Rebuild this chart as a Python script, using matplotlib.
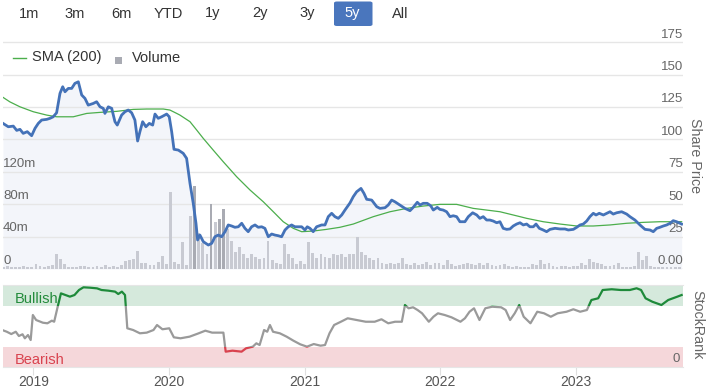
import matplotlib
matplotlib.use("Agg")
import matplotlib.pyplot as plt
import matplotlib.transforms as mtransforms
import numpy as np
from matplotlib.patches import Rectangle, FancyBboxPatch

plt.rcParams.update({"font.family": ["Liberation Sans", "DejaVu Sans"], "font.size": 10})

BLUE, GREEN, GREY, RED = "#4472b8", "#4cae4c", "#9a9a9a", "#d9434f"
TXT = "#666666"

# ---- share price (decimal year, price) ----
PRICE_T = [2018.777, 2018.816, 2018.853, 2018.878, 2018.902, 2018.926, 2018.956, 2018.988,
           2019.013, 2019.037, 2019.062, 2019.099, 2019.123, 2019.147, 2019.172, 2019.197,
           2019.217, 2019.234, 2019.258, 2019.283, 2019.307, 2019.332, 2019.357, 2019.381,
           2019.405, 2019.442, 2019.467, 2019.492, 2019.516, 2019.528, 2019.553, 2019.578,
           2019.602, 2019.619, 2019.651, 2019.676, 2019.700, 2019.725, 2019.749, 2019.769,
           2019.786, 2019.806, 2019.830, 2019.855, 2019.880, 2019.897, 2019.921, 2019.946,
           2019.983, 2020.002, 2020.020, 2020.037, 2020.069, 2020.105, 2020.130, 2020.155,
           2020.179, 2020.199, 2020.211, 2020.228, 2020.253, 2020.290, 2020.315, 2020.339,
           2020.363, 2020.388, 2020.413, 2020.437, 2020.462, 2020.486, 2020.511, 2020.536,
           2020.560, 2020.584, 2020.609, 2020.634, 2020.658, 2020.683, 2020.707, 2020.732,
           2020.757, 2020.781, 2020.805, 2020.830, 2020.855, 2020.879, 2020.904, 2020.928,
           2020.953, 2020.978, 2021.002, 2021.019, 2021.039, 2021.063, 2021.088, 2021.125,
           2021.150, 2021.174, 2021.199, 2021.223, 2021.248, 2021.273, 2021.297, 2021.334,
           2021.358, 2021.383, 2021.415, 2021.437, 2021.457, 2021.494, 2021.531, 2021.555,
           2021.592, 2021.616, 2021.641, 2021.665, 2021.702, 2021.739, 2021.776, 2021.800,
           2021.830, 2021.850, 2021.874, 2021.903, 2021.929, 2021.948, 2021.977, 2021.997,
           2022.021, 2022.046, 2022.071, 2022.095, 2022.120, 2022.144, 2022.181, 2022.206,
           2022.238, 2022.268, 2022.291, 2022.316, 2022.341, 2022.365, 2022.390, 2022.415,
           2022.439, 2022.463, 2022.489, 2022.513, 2022.537, 2022.562, 2022.587, 2022.611,
           2022.636, 2022.660, 2022.685, 2022.705, 2022.729, 2022.758, 2022.783, 2022.808,
           2022.845, 2022.882, 2022.918, 2022.943, 2022.980, 2023.005, 2023.029, 2023.053,
           2023.078, 2023.102, 2023.127, 2023.147, 2023.171, 2023.201, 2023.226, 2023.250,
           2023.274, 2023.299, 2023.336, 2023.373, 2023.397, 2023.434, 2023.471, 2023.508,
           2023.545, 2023.569, 2023.594, 2023.618, 2023.643, 2023.668, 2023.692, 2023.716,
           2023.741, 2023.766, 2023.778]
PRICE = [112.4, 109.8, 110.3, 107.0, 107.8, 104.7, 106.0, 102.9,
         108.6, 112.4, 115.0, 115.5, 116.3, 117.5, 120.6, 135.6,
         140.7, 136.8, 139.4, 139.4, 143.3, 144.5, 134.3, 131.7,
         126.5, 127.8, 129.1, 125.2, 124.0, 120.1, 125.2, 124.0,
         113.7, 111.1, 118.8, 121.4, 122.7, 120.6, 115.0, 98.8,
         106.0, 113.7, 109.8, 112.4, 111.1, 119.6, 116.3, 117.5,
         119.6, 117.5, 106.0, 92.4, 91.8, 89.3, 85.4, 66.1,
         50.7, 35.3, 22.4, 26.2, 21.1, 18.5, 19.8, 24.9,
         26.2, 24.9, 28.8, 34.0, 33.2, 32.2, 32.6, 35.3,
         31.4, 28.8, 32.6, 34.0, 32.2, 32.6, 31.4, 24.9,
         27.0, 26.2, 25.7, 24.9, 30.1, 32.6, 34.0, 32.6,
         32.6, 32.6, 30.1, 32.6, 31.4, 28.8, 32.6, 34.0,
         34.0, 40.4, 43.0, 40.4, 39.1, 41.7, 45.5, 51.0,
         55.8, 59.6, 62.2, 58.4, 53.8, 53.2, 48.1, 46.8,
         47.3, 49.4, 53.2, 51.9, 49.4, 46.8, 45.0, 47.6,
         51.5, 49.4, 50.7, 50.7, 48.8, 45.5, 47.6, 46.0,
         45.5, 44.2, 40.4, 41.1, 40.4, 36.5, 36.5, 40.4,
         43.4, 41.7, 39.1, 40.4, 37.8, 37.8, 37.0, 35.7,
         36.5, 31.4, 30.6, 30.9, 33.2, 34.7, 35.7, 34.0,
         34.7, 32.6, 32.6, 34.7, 31.4, 30.1, 28.8, 30.6,
         31.4, 30.9, 30.9, 30.1, 30.6, 32.2, 34.0, 34.7,
         37.0, 40.4, 43.0, 41.7, 43.0, 41.7, 43.0, 44.2,
         42.4, 43.4, 44.2, 42.4, 40.4, 37.8, 34.0, 30.6,
         30.1, 28.8, 31.4, 32.2, 33.2, 34.0, 35.3, 37.3,
         36.5, 35.3, 34.7]

# ---- 200-day moving average ----
SMA_T = [2018.777, 2018.828, 2018.902, 2019.000, 2019.099, 2019.172, 2019.295, 2019.394,
         2019.492, 2019.615, 2019.737, 2019.836, 2019.958, 2020.007, 2020.057, 2020.081,
         2020.155, 2020.204, 2020.253, 2020.326, 2020.400, 2020.499, 2020.597, 2020.695,
         2020.769, 2020.842, 2020.916, 2020.978, 2021.063, 2021.162, 2021.260, 2021.358,
         2021.506, 2021.629, 2021.752, 2021.874, 2021.997, 2022.120, 2022.242, 2022.439,
         2022.587, 2022.636, 2022.758, 2022.882, 2023.005, 2023.127, 2023.250, 2023.373,
         2023.495, 2023.618, 2023.778]
SMA = [132.5, 129.0, 125.2, 121.4, 118.8, 117.5, 117.5, 120.1,
       120.9, 121.7, 123.2, 123.5, 123.5, 122.7, 120.1, 118.8,
       113.7, 107.3, 100.8, 91.8, 82.8, 71.2, 61.0, 51.9,
       44.2, 36.5, 31.4, 28.8, 29.3, 30.6, 32.2, 34.7,
       40.4, 44.2, 46.8, 48.6, 49.9, 49.9, 46.8, 44.2,
       40.4, 39.1, 36.5, 34.7, 33.2, 33.2, 34.0, 35.3,
       36.0, 36.5, 36.5]

# ---- volume (millions), one bar every VOL_STEP years from VOL_START ----
VOL_START, VOL_STEP = 2018.78, 0.03
VOLUME_M = [3, 4, 2, 3, 2, 4, 3, 3, 6, 4, 3, 4, 5, 19, 12, 6, 3, 2, 3, 4,
            4, 3, 3, 4, 3, 5, 3, 4, 3, 5, 10, 11, 12, 22, 8, 7, 5, 5, 9, 16,
            6, 95, 9, 6, 33, 5, 66, 102, 45, 32, 19, 80, 58, 62, 74, 49, 35, 21, 27, 19,
            14, 18, 15, 12, 14, 35, 11, 8, 6, 31, 19, 14, 6, 10, 6, 33, 20, 14, 19, 15,
            13, 19, 17, 19, 15, 19, 18, 40, 21, 17, 14, 11, 14, 7, 6, 8, 6, 7, 13, 6,
            5, 7, 5, 6, 9, 5, 7, 8, 5, 11, 6, 4, 5, 6, 8, 6, 5, 7, 5, 8,
            5, 4, 5, 6, 4, 3, 4, 2, 3, 2, 6, 5, 11, 6, 8, 4, 3, 4, 4, 3,
            4, 4, 7, 5, 12, 9, 8, 6, 4, 4, 5, 8, 3, 3, 3, 4, 21, 11, 16, 4,
            3, 2, 3, 2, 3, 2, 3]
VOL_DARK = [47, 51, 53, 54]

# ---- StockRank ----
RANK_T = [2018.771, 2018.805, 2018.838, 2018.871, 2018.894, 2018.921, 2018.938, 2018.961,
          2018.981, 2018.997, 2019.021, 2019.071, 2019.104, 2019.137, 2019.154, 2019.180,
          2019.204, 2019.237, 2019.270, 2019.304, 2019.337, 2019.370, 2019.420, 2019.470,
          2019.503, 2019.553, 2019.603, 2019.626, 2019.653, 2019.676, 2019.693, 2019.736,
          2019.786, 2019.836, 2019.886, 2019.912, 2019.952, 2020.002, 2020.036, 2020.085,
          2020.152, 2020.219, 2020.268, 2020.318, 2020.401, 2020.418, 2020.468, 2020.535,
          2020.568, 2020.618, 2020.644, 2020.668, 2020.701, 2020.724, 2020.744, 2020.767,
          2020.817, 2020.867, 2020.917, 2020.967, 2021.017, 2021.067, 2021.117, 2021.150,
          2021.183, 2021.217, 2021.267, 2021.317, 2021.383, 2021.450, 2021.516, 2021.566,
          2021.616, 2021.666, 2021.716, 2021.739, 2021.766, 2021.799, 2021.832, 2021.865,
          2021.915, 2021.949, 2021.982, 2022.032, 2022.082, 2022.148, 2022.181, 2022.215,
          2022.248, 2022.288, 2022.331, 2022.381, 2022.448, 2022.481, 2022.514, 2022.548,
          2022.581, 2022.614, 2022.664, 2022.714, 2022.764, 2022.814, 2022.864, 2022.930,
          2022.980, 2023.030, 2023.080, 2023.113, 2023.163, 2023.196, 2023.263, 2023.329,
          2023.396, 2023.446, 2023.479, 2023.512, 2023.562, 2023.629, 2023.679, 2023.745,
          2023.778]
RANK = [45.1, 43.0, 40.2, 43.0, 37.8, 39.9, 35.0, 39.0,
        32.9, 63.4, 57.3, 54.0, 53.3, 56.5, 55.2, 73.5,
        89.8, 87.8, 85.8, 87.8, 93.9, 97.2, 96.7, 95.9,
        93.9, 93.1, 91.9, 89.0, 91.9, 87.8, 47.2, 45.1,
        41.1, 41.9, 45.1, 51.2, 46.0, 47.2, 36.2, 35.0,
        37.0, 41.1, 44.3, 41.9, 41.9, 18.7, 19.9, 18.7,
        22.8, 24.8, 28.9, 26.8, 45.1, 43.0, 51.2, 43.0,
        41.1, 37.0, 32.1, 27.7, 24.8, 28.0, 26.0, 26.8,
        41.1, 51.2, 55.2, 59.4, 57.3, 55.2, 55.2, 58.2,
        53.3, 55.2, 55.2, 75.6, 71.6, 72.8, 69.5, 65.5,
        55.2, 61.3, 65.5, 63.4, 60.6, 55.2, 59.4, 67.4,
        71.6, 57.3, 71.6, 73.5, 72.8, 69.5, 57.3, 65.5,
        75.6, 61.3, 53.3, 67.4, 65.5, 61.3, 65.5, 67.4,
        70.4, 67.4, 69.5, 81.7, 83.8, 93.9, 94.8, 93.9,
        93.9, 96.0, 93.9, 83.8, 79.6, 75.6, 81.7, 85.7,
        87.8]

YEARS = [2019, 2020, 2021, 2022, 2023]
PRICE_TICKS = [0, 25, 50, 75, 100, 125, 150, 175]
VOL_TICKS = [0, 40, 80, 120]
BUTTONS = ["1m", "3m", "6m", "YTD", "1y", "2y", "3y", "5y", "All"]
ACTIVE = "5y"

W, H = 708, 389
XMIN, XMAX = 2018.777, 2023.788


def rect(x0, y0, x1, y1):
    return [x0 / W, 1 - y1 / H, (x1 - x0) / W, (y1 - y0) / H]


fig = plt.figure(figsize=(W / 100, H / 100), dpi=100)

# main panel: background (fill + grid), volume, price lines
main = rect(3, 41, 683, 269)
ax_bg = fig.add_axes(main)
ax_vol = fig.add_axes(main, sharex=ax_bg)
ax_p = fig.add_axes(main, sharex=ax_bg, sharey=ax_bg)
for a in (ax_bg, ax_vol, ax_p):
    a.set_axis_off()
ax_bg.set_xlim(XMIN, XMAX)
ax_bg.set_ylim(0, 176)
ax_vol.set_ylim(0, 176 * 1.6)

ax_bg.fill_between(PRICE_T, PRICE, 0, color="#f3f5fa", lw=0, zorder=0)
for v in PRICE_TICKS:
    ax_bg.axhline(v, color="#e6e6e6", lw=1, zorder=1)

vol_t = VOL_START + VOL_STEP * np.arange(len(VOLUME_M))
vcols = ["#a9abb3" if i in VOL_DARK else "#c8cad2" for i in range(len(VOLUME_M))]
ax_vol.bar(vol_t, VOLUME_M, width=VOL_STEP * 0.7, color=vcols, lw=0)

ax_p.plot(SMA_T, SMA, color=GREEN, lw=0.9)
ax_p.plot(PRICE_T, PRICE, color=BLUE, lw=2.0, solid_joinstyle="round")

tr_r = mtransforms.blended_transform_factory(ax_bg.transAxes, ax_bg.transData)
for v in PRICE_TICKS:
    ax_bg.annotate("0.00" if v == 0 else str(v), (1, v), xycoords=tr_r,
                   xytext=(0, 5.5), textcoords="offset points", ha="right", va="center",
                   fontsize=9.5, color=TXT)
tr_l = mtransforms.blended_transform_factory(ax_vol.transAxes, ax_vol.transData)
for v in VOL_TICKS:
    ax_vol.annotate("0" if v == 0 else f"{v}m", (0, v), xycoords=tr_l,
                    xytext=(0, 6), textcoords="offset points", ha="left", va="center",
                    fontsize=9.5, color=TXT)
fig.text(695 / W, 1 - 156 / H, "Share Price", rotation=-90, ha="center", va="center",
         fontsize=10.3, color=TXT)

# legend
fig.add_artist(plt.Line2D([13 / W, 26 / W], [1 - 57.5 / H] * 2, color=GREEN, lw=1))
fig.text(32.5 / W, 1 - 57.5 / H, "SMA (200)", ha="left", va="center", fontsize=10.5, color="#333333")
fig.add_artist(Rectangle((114.5 / W, 1 - 63.5 / H), 7 / W, 7 / H, color="#a9abb3", lw=0))
fig.text(131.5 / W, 1 - 57.5 / H, "Volume", ha="left", va="center", fontsize=10.5, color="#333333")

# range buttons
btn_x = [29.3, 75, 121, 168, 213, 260, 307, 352.7, 400]
for lab, bx in zip(BUTTONS, btn_x):
    if lab == ACTIVE:
        fig.add_artist(FancyBboxPatch((334 / W, 1 - 26 / H), 38.5 / W, 24.5 / H,
                                      boxstyle="round,pad=0,rounding_size=0.004",
                                      color="#4a76bd", lw=0))
    fig.text(bx / W, 1 - 13.5 / H, lab, ha="center", va="center", fontsize=10.5,
             color="white" if lab == ACTIVE else "#333333")

# StockRank panel
ax_r = fig.add_axes(rect(3, 285, 683, 367))
ax_r.set_xlim(XMIN, XMAX)
ax_r.set_ylim(0, 100)
ax_r.axhspan(75, 100, color="#d5e9dc", lw=0, zorder=0)
ax_r.axhspan(0, 25, color="#f5d7da", lw=0, zorder=0)
for lo, hi, col in [(75, 101, "#1e8a3a"), (25, 75, GREY), (-1, 25, RED)]:
    ln, = ax_r.plot(RANK_T, RANK, color=col, lw=1.6, solid_joinstyle="round", zorder=2)
    ln.set_clip_path(Rectangle((XMIN, lo), XMAX - XMIN, hi - lo, transform=ax_r.transData))
for s in ("left", "right"):
    ax_r.spines[s].set_visible(False)
ax_r.spines["top"].set_color("#e6e6e6")
ax_r.spines["bottom"].set_color("#e6e6e6")
ax_r.set_yticks([])
ax_r.set_xticks(YEARS)
ax_r.set_xticklabels([])
ax_r.tick_params(axis="x", length=6, color="#e0e0e0")
for y in YEARS:
    ax_r.annotate(str(y), (y, 0), xycoords=("data", "axes fraction"), xytext=(0, -10.5),
                  textcoords="offset points", ha="center", va="center", fontsize=10,
                  color="#555555")
tr_rk = mtransforms.blended_transform_factory(ax_r.transAxes, ax_r.transData)
ax_r.text(0.018, 83.5, "Bullish", transform=tr_rk, ha="left", va="center", fontsize=10.5,
          color="#238b3b")
ax_r.text(0.018, 9, "Bearish", transform=tr_rk, ha="left", va="center", fontsize=10.5,
          color=RED)
ax_r.text(0.995, 10, "0", transform=tr_rk, ha="right", va="center", fontsize=9.5, color=TXT)
fig.text(697 / W, 1 - 325 / H, "StockRank", rotation=-90, ha="center", va="center",
         fontsize=10.3, color=TXT)

fig.savefig("out.png", dpi=100)
